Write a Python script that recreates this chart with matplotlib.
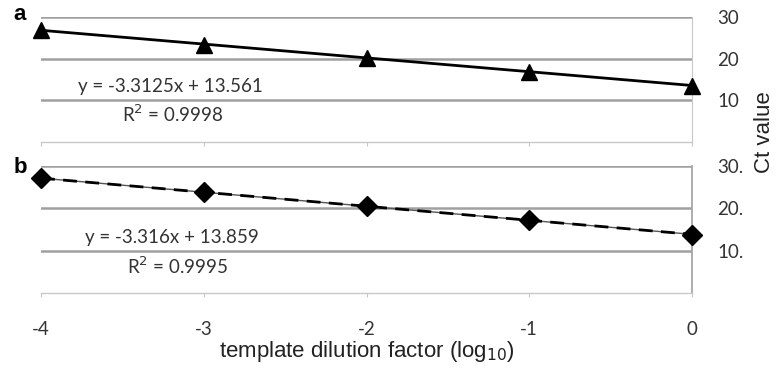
import numpy as np
import matplotlib.pyplot as plt

dilution = [-4, -3, -2, -1, 0]
ct_a = [26.9, 23.4, 20.1, 16.9, 13.5]
ct_b = [27.1, 23.9, 20.5, 17.2, 13.8]
fit_a = (-3.3125, 13.561, 0.9998)
fit_b = (-3.316, 13.859, 0.9995)
yticks_a = ["30", "20", "10"]
yticks_b = ["30.", "20.", "10."]

num_font = "Lato"
grid_col = "#a0a0a0"

fig = plt.figure(figsize=(7.84, 3.75), dpi=100)
ax_a = fig.add_axes([41 / 784, 1 - 142 / 375, (692 - 41) / 784, 125 / 375])
ax_b = fig.add_axes([41 / 784, 1 - 293 / 375, (692 - 41) / 784, 127 / 375])


def style_panel(ax, ticklabels, right_solid):
    ax.set_xlim(-4, 0)
    ax.set_ylim(0, 30)
    for side in ("left", "top"):
        ax.spines[side].set_visible(False)
    ax.spines["bottom"].set_color("#c8c8c8")
    ax.spines["bottom"].set_linestyle((0, (2, 1)))
    ax.spines["bottom"].set_linewidth(1.0)
    if right_solid:
        ax.spines["right"].set_color(grid_col)
        ax.spines["right"].set_linewidth(1.2)
    else:
        ax.spines["right"].set_color("#c8c8c8")
        ax.spines["right"].set_linestyle((0, (2, 1)))
    ax.set_yticks([30, 20, 10])
    ax.set_yticklabels(ticklabels, fontfamily=num_font, fontsize=13.5, color="#333333")
    ax.yaxis.tick_right()
    ax.tick_params(axis="y", length=0, pad=18)
    ax.set_xticks(dilution)
    ax.tick_params(axis="x", length=3, color="#c8c8c8", direction="out")
    for y in [10, 20, 30]:
        ax.axhline(y, color=grid_col, lw=1.8, zorder=1)
    ax.set_facecolor("none")


style_panel(ax_a, yticks_a, right_solid=False)
style_panel(ax_b, yticks_b, right_solid=True)

xs = np.array([-4, 0])

# panel a: triangles with solid trendline
ax_a.plot(xs, fit_a[0] * xs + fit_a[1], color="black", lw=2, zorder=3)
ax_a.plot(dilution, ct_a, linestyle="none", marker="^", ms=12, color="black",
          clip_on=False, zorder=4)
ax_a.set_xticklabels([])
ax_a.text(-3.77, 13.3, f"y = {fit_a[0]}x + {fit_a[1]}", fontfamily=num_font,
          fontsize=13.5, color="#333333", va="center")
ax_a.text(-3.50, 6.6, f"R$^2$ = {fit_a[2]}", fontfamily=num_font,
          fontsize=13.5, color="#333333", va="center")

# panel b: diamonds with dashed trendline
ax_b.plot(xs, fit_b[0] * xs + fit_b[1], color="#555555", lw=1, zorder=3)
ax_b.plot(xs, fit_b[0] * xs + fit_b[1], color="black", lw=2, ls=(0, (5, 3)), zorder=3)
ax_b.plot(dilution, ct_b, linestyle="none", marker="D", ms=10, color="black",
          clip_on=False, zorder=4)
ax_b.set_xticklabels([str(d) for d in dilution], fontfamily=num_font,
                     fontsize=13.5, color="#333333")
ax_b.tick_params(axis="x", pad=17)
ax_b.text(-3.73, 13.0, f"y = {fit_b[0]}x + {fit_b[1]}", fontfamily=num_font,
          fontsize=13.5, color="#333333", va="center")
ax_b.text(-3.47, 6.4, f"R$^2$ = {fit_b[2]}", fontfamily=num_font,
          fontsize=13.5, color="#333333", va="center")
ax_b.set_xlabel("template dilution factor (log$_{10}$)", fontfamily="Liberation Sans",
                fontsize=16, color="#222222", labelpad=1)

fig.text(20 / 784, 1 - 15 / 375, "a", fontfamily="Liberation Sans", fontsize=16,
         fontweight="bold", ha="center", va="center")
fig.text(20 / 784, 1 - 168 / 375, "b", fontfamily="Liberation Sans", fontsize=16,
         fontweight="bold", ha="center", va="center")
fig.text(764 / 784, 1 - 132 / 375, "Ct value", fontfamily="Liberation Sans",
         fontsize=16, color="#222222", rotation=90, ha="center", va="center")

fig.savefig("out.png", dpi=100)
